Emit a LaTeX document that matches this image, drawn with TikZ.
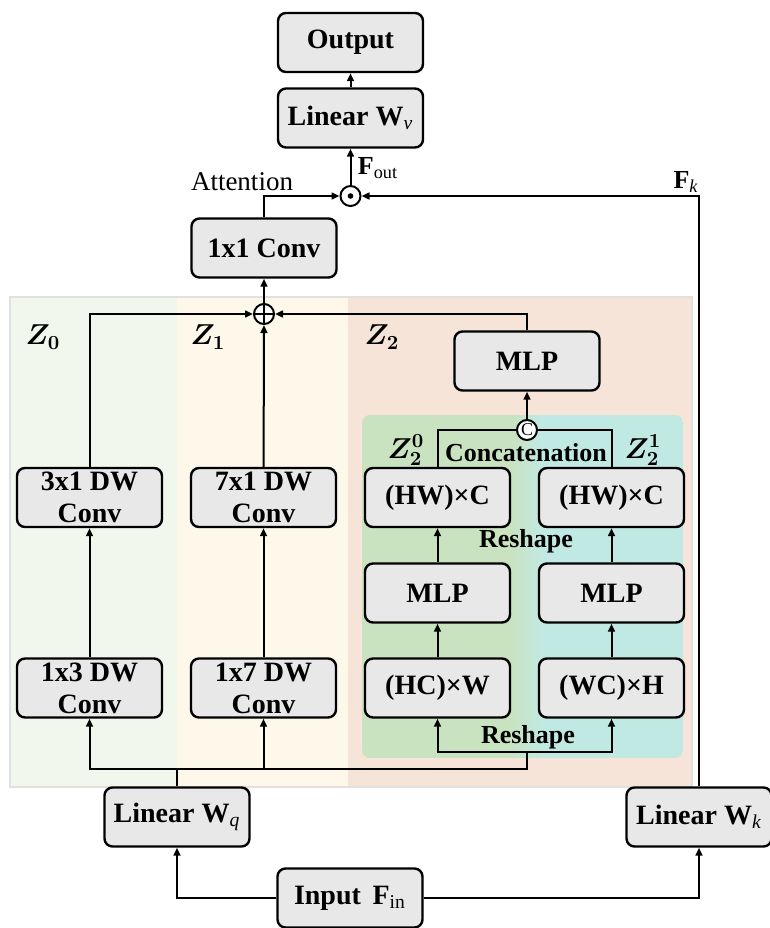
\documentclass[tikz,border=0pt]{standalone}
\usepackage{fontspec}
\setmainfont{Liberation Serif}
\usepackage{bm}
\usepackage{tikz}
\usetikzlibrary{positioning,arrows.meta}

\definecolor{boxFill}{HTML}{E8E8E8}
\definecolor{zoneA}{HTML}{F1F7EC}
\definecolor{zoneB}{HTML}{FEF8EA}
\definecolor{zoneC}{HTML}{F5E4D7}
\definecolor{innerG}{HTML}{C9E2BF}
\definecolor{innerC}{HTML}{C1E9E3}

\begin{document}
\begin{tikzpicture}[x=0.5pt,y=-0.5pt,
  blk/.style={draw=black,line width=1.2pt,fill=boxFill,rounded corners=4pt,
    minimum width=72.5pt,minimum height=29.5pt,inner sep=0pt,align=center,
    font=\fontsize{14}{16}\selectfont\bfseries},
  flow/.style={-{Triangle[length=4pt,width=3.4pt]},line width=1pt},
  wire/.style={line width=1pt},
  op/.style={circle,draw,line width=1pt,fill=white,minimum size=10pt,inner sep=0pt},
  tag/.style={font=\fontsize{13}{15}\selectfont\bfseries,inner sep=1pt},
  zlab/.style={font=\fontsize{14}{16}\selectfont,inner sep=1pt}]
\useasboundingbox (0,0) rectangle (770,928);

% branch zones
\fill[zoneA] (10,297) rectangle (177,787);
\fill[zoneB] (177,297) rectangle (348,787);
\fill[zoneC] (348,297) rectangle (692,787);
\draw[black!12,line width=0.8pt] (10,297) rectangle (692,787);
\begin{scope}
  \clip[rounded corners=4pt] (362,415) rectangle (683,758);
  \fill[innerG] (362,415) rectangle (526,758);
  \fill[innerC] (526,415) rectangle (683,758);
  \shade[left color=innerG,right color=innerC] (510,415) rectangle (542,758);
\end{scope}

% top path
\node[blk] (output) at (350.5,42.5) {Output};
\node[blk] (linv) at (350.5,118) {Linear W\textsubscript{\mdseries\itshape v}};
\node[op] (mult) at (350.5,196) {};
\fill (mult) circle (1.4pt);
\node[blk] (conv) at (264,248) {1x1 Conv};
\node[op] (sum) at (264,314) {};
\draw[line width=1pt] (sum.north) -- (sum.south) (sum.west) -- (sum.east);

% Z0 and Z1
\node[blk] (dw31) at (89.5,497.5) {3x1 DW\\Conv};
\node[blk] (dw13) at (89.5,688) {1x3 DW\\Conv};
\node[blk] (dw71) at (263.5,497.5) {7x1 DW\\Conv};
\node[blk] (dw17) at (263.5,688) {1x7 DW\\Conv};

% Z2
\node[blk] (mlp) at (527,361) {MLP};
\node[op,minimum size=10pt,font=\fontsize{9}{9}\selectfont] (cat) at (527,430) {C};
\node[blk] (hwcA) at (437.5,497.5) {(HW)×C};
\node[blk] (hwcB) at (611.5,497.5) {(HW)×C};
\node[blk] (mlpA) at (437.5,593) {MLP};
\node[blk] (mlpB) at (611.5,593) {MLP};
\node[blk] (hcw) at (437.5,688) {(HC)×W};
\node[blk] (wch) at (611.5,688) {(WC)×H};

% inputs
\node[blk] (linq) at (177,817) {Linear W\textsubscript{\mdseries\itshape q}};
\node[blk] (link) at (699,817) {Linear W\textsubscript{\mdseries\itshape k}};
\node[blk] (inp) at (350,898) {Input\, F\textsubscript{\mdseries in}};

% labels
\node[font=\fontsize{13.5}{15}\selectfont] (attn) at (242,182) {Attention};
\node[font=\fontsize{13}{15}\selectfont] (fout) at (378,168) {\textbf{F}\textsubscript{out}};
\node[font=\fontsize{13}{15}\selectfont] (fk) at (686,182) {\textbf{F}\textsubscript{\itshape k}};
\node[zlab] (z0) at (43,337) {$\bm{Z}_{\bm{0}}$};
\node[zlab] (z1) at (208,337) {$\bm{Z}_{\bm{1}}$};
\node[zlab] (z2) at (382,337) {$\bm{Z}_{\bm{2}}$};
\node[zlab] (z20) at (406,450) {$\bm{Z}_{\bm{2}}^{\bm{0}}$};
\node[zlab] (z21) at (643,450) {$\bm{Z}_{\bm{2}}^{\bm{1}}$};
\node[tag] (concat) at (526,453) {Concatenation};
\node[tag] (reshU) at (526,541) {Reshape};
\node[tag] (reshL) at (528,737) {Reshape};

% connectors
\coordinate (qbus) at (177,769);
\coordinate (rbus) at (527,752);
\draw[wire] (linq.north) -- (qbus);
\draw[flow] (qbus) -| (dw13.south);
\draw[flow] (qbus) -| (dw17.south);
\draw[wire] (qbus) -| (rbus);
\draw[flow] (rbus) -| (hcw.south);
\draw[flow] (rbus) -| (wch.south);
\draw[flow] (dw13) -- (dw31);
\draw[flow] (dw17) -- (dw71);
\draw[flow] (hcw) -- (mlpA);
\draw[flow] (mlpA) -- (hwcA);
\draw[flow] (wch) -- (mlpB);
\draw[flow] (mlpB) -- (hwcB);
\draw[wire] (hwcA.north) |- (cat.west);
\draw[wire] (hwcB.north) |- (cat.east);
\draw[flow] (cat) -- (mlp);
\draw[flow] (dw31.north) |- (sum.west);
\draw[flow] (dw71) -- (sum);
\draw[flow] (mlp.north) |- (sum.east);
\draw[flow] (sum) -- (conv);
\draw[flow] (conv.north) |- (mult.west);
\draw[flow] (link.north) |- (mult.east);
\draw[flow] (mult) -- (linv);
\draw[flow] (linv) -- (output);
\draw[flow] (inp.west) -| (linq.south);
\draw[flow] (inp.east) -| (link.south);
\end{tikzpicture}
\end{document}
